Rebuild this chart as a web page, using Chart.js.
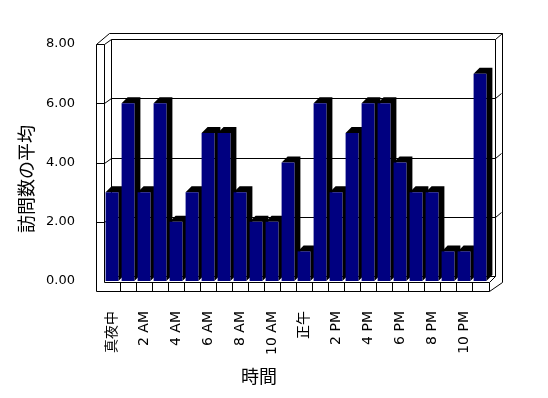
<!DOCTYPE html>
<html>
<head>
<meta charset="utf-8">
<script src="https://cdn.jsdelivr.net/npm/chart.js@4.4.0/dist/chart.umd.min.js"></script>
<style>
  html, body { margin: 0; padding: 0; background: #fff; }
  #wrap { width: 548px; height: 398px; }
</style>
</head>
<body>
<div id="wrap"><canvas id="visitsChart" width="548" height="398"></canvas></div>
<script>
// --- chart data ---
const hours = ['真夜中', '1 AM', '2 AM', '3 AM', '4 AM', '5 AM', '6 AM', '7 AM', '8 AM', '9 AM', '10 AM', '11 AM',
               '正午', '1 PM', '2 PM', '3 PM', '4 PM', '5 PM', '6 PM', '7 PM', '8 PM', '9 PM', '10 PM', '11 PM'];
const avgVisits = [3, 6, 3, 6, 2, 3, 5, 5, 3, 2, 2, 4, 1, 6, 3, 5, 6, 6, 4, 3, 3, 1, 1, 7];
const yTicks = [0, 2, 4, 6, 8];
const yTitle = '訪問数の平均';
const xTitle = '時間';

const latinFont = "'DejaVu Sans', 'Noto Sans CJK JP', sans-serif";
const cjkFont = "'Noto Sans CJK JP', 'DejaVu Sans', sans-serif";

// Excel-style 3D box: walls, floor, gridlines and bar depth
const frame3d = {
    id: 'frame3d',
    beforeDatasetsDraw(chart) {
        const ctx = chart.ctx;
        const ca = chart.chartArea;
        const xs = chart.scales.x;
        const ys = chart.scales.y;
        const L = Math.round(ca.left) + 0.5, R = Math.round(ca.right) + 0.5;
        const T = Math.round(ca.top) + 0.5, B = Math.round(ca.bottom) + 0.5;
        const line = (pts, close) => {
            ctx.beginPath();
            ctx.moveTo(pts[0][0], pts[0][1]);
            for (let i = 1; i < pts.length; i++) ctx.lineTo(pts[i][0], pts[i][1]);
            if (close) ctx.closePath();
            ctx.stroke();
        };
        ctx.save();
        ctx.strokeStyle = '#000';
        ctx.lineWidth = 1;

        // outer silhouette
        line([[L - 8, B + 10], [L - 8, T], [L + 5, T - 11], [R + 14, T - 11], [R + 14, B + 1], [R + 1, B + 10]], true);
        // left wall
        line([[L - 8, T], [L, T], [L + 7, T - 5]]);
        line([[L, T], [L, B + 1]]);
        // back wall
        line([[L + 7, B - 5], [L + 7, T - 5], [R + 7, T - 5], [R + 7, B - 5]]);
        line([[R + 7, T - 5], [R + 14, T - 11]]);
        // floor
        line([[L, B + 1], [R + 1, B + 1], [R + 7, B - 5]]);
        line([[L + 7, B - 5], [R + 7, B - 5]]);
        for (let i = 1; i <= hours.length; i++) {
            const px = i < hours.length
                ? Math.round((xs.getPixelForTick(i - 1) + xs.getPixelForTick(i)) / 2) + 0.5
                : R + 1;
            line([[px, B + 1], [px, B + 10]]);
        }
        // gridlines wrapping round the walls
        yTicks.forEach(v => {
            if (v === 0 || v === yTicks[yTicks.length - 1]) return;
            const y = Math.round(ys.getPixelForValue(v)) + 0.5;
            line([[L - 8, y], [L, y], [L + 7, y - 5], [R + 7, y - 5], [R + 13, y - 10]]);
        });

        // bar depth (top + right side)
        const d = 6;
        ctx.fillStyle = '#000';
        chart.getDatasetMeta(0).data.forEach(bar => {
            const left = bar.x - bar.width / 2, right = bar.x + bar.width / 2;
            ctx.beginPath();
            ctx.moveTo(left, bar.y);
            ctx.lineTo(left + d, bar.y - d);
            ctx.lineTo(right + d, bar.y - d);
            ctx.lineTo(right + d, bar.base - d);
            ctx.lineTo(right, bar.base);
            ctx.lineTo(right, bar.y);
            ctx.closePath();
            ctx.fill();
        });
        ctx.restore();
    },
    afterDraw(chart) {
        const ctx = chart.ctx;
        ctx.save();
        ctx.fillStyle = '#000';
        ctx.textAlign = 'center';
        ctx.textBaseline = 'middle';
        ctx.font = "18px " + cjkFont;
        ctx.fillText(xTitle, 259, 376);
        ctx.translate(26, 179);
        ctx.rotate(-Math.PI / 2);
        ctx.fillText(yTitle, 0, 0);
        ctx.restore();
    }
};

new Chart(document.getElementById('visitsChart'), {
    type: 'bar',
    data: {
        labels: hours,
        datasets: [{
            data: avgVisits,
            backgroundColor: '#000080',
            borderWidth: 0,
            barPercentage: 0.8,
            categoryPercentage: 1
        }]
    },
    options: {
        responsive: false,
        animation: false,
        layout: { padding: { left: 0, right: 60, top: 44, bottom: 0 } },
        plugins: {
            legend: { display: false },
            tooltip: { enabled: false }
        },
        scales: {
            x: {
                grid: { display: false },
                border: { display: false },
                ticks: {
                    autoSkip: false,
                    minRotation: 90,
                    maxRotation: 90,
                    padding: 22,
                    color: '#000',
                    font: { family: latinFont, size: 14 },
                    callback: (v, i) => (i % 2 === 0 ? hours[i] : '')
                },
                afterFit: s => { s.height = 117; }
            },
            y: {
                min: yTicks[0],
                max: yTicks[yTicks.length - 1],
                grid: { display: false },
                border: { display: false },
                ticks: {
                    stepSize: 2,
                    padding: 21,
                    color: '#000',
                    font: { family: latinFont, size: 13 },
                    callback: v => v.toFixed(2)
                },
                afterFit: s => { s.width = 104; }
            }
        }
    },
    plugins: [frame3d]
});
</script>
</body>
</html>
